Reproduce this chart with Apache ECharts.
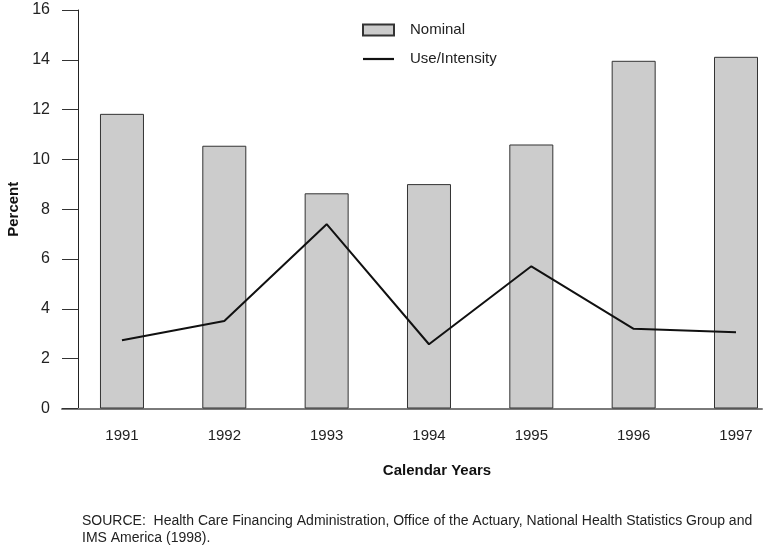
<!DOCTYPE html>
<html><head><meta charset="utf-8">
<script src="https://cdn.jsdelivr.net/npm/echarts@6/dist/echarts.min.js"></script>
<style>html,body{margin:0;padding:0;background:#fff}#c{width:768px;height:547px}</style>
</head><body><div id="c"></div>
<script>
const years = [1991, 1992, 1993, 1994, 1995, 1996, 1997];
const nominal = [11.83, 10.55, 8.64, 9.01, 10.6, 13.96, 14.12];
const useIntensity = [2.74, 3.51, 7.4, 2.58, 5.71, 3.2, 3.06];
const seriesNames = ['Nominal', 'Use/Intensity'];
const xTitle = 'Calendar Years';
const yTitle = 'Percent';
const sourceNote = 'SOURCE:  Health Care Financing Administration, Office of the Actuary, National Health Statistics Group and\nIMS America (1998).';

const FONT = '"Liberation Sans", Arial, sans-serif';
const chart = echarts.init(document.getElementById('c'), null, {renderer: 'canvas'});
chart.setOption({
  animation: false,
  backgroundColor: '#fff',
  textStyle: {fontFamily: FONT},
  grid: {left: 62, right: 6, top: 10, bottom: 138.5, containLabel: false, outerBoundsMode: 'none'},
  legend: {
    orient: 'vertical', left: 357, top: 17.5,
    itemWidth: 31, itemHeight: 11, itemGap: 14,
    textStyle: {fontFamily: FONT, fontSize: 15, color: '#222', padding: [0, 0, 0, 11]},
    data: [
      {name: seriesNames[0], icon: 'rect'},
      {name: seriesNames[1], icon: 'path://M0,0L31,0L31,2.2L0,2.2Z', itemStyle: {color: '#111', borderWidth: 0}}
    ]
  },
  xAxis: {
    type: 'value', min: 1990.414, max: 1997.254,
    axisLine: {show: true, lineStyle: {color: '#7a7a7a', width: 2}},
    axisTick: {show: false},
    splitLine: {show: false},
    axisLabel: {customValues: years, margin: 20, fontSize: 15, color: '#222', fontFamily: FONT,
      formatter: v => String(Math.round(v))}
  },
  yAxis: {
    type: 'value', min: 0, max: 16, interval: 2, offset: -16,
    name: yTitle, nameLocation: 'middle', nameGap: 57,
    nameTextStyle: {fontFamily: FONT, fontSize: 15, fontWeight: 'bold', color: '#111'},
    axisLine: {show: true, lineStyle: {color: '#222', width: 1}},
    axisTick: {show: true, length: 16, lineStyle: {color: '#333', width: 1}},
    splitLine: {show: false},
    axisLabel: {margin: 28, fontSize: 16, color: '#222', fontFamily: FONT}
  },
  graphic: [
    {
      type: 'text', x: 437, y: 471,
      style: {text: xTitle, fontSize: 15, fontWeight: 'bold', fill: '#111', fontFamily: FONT,
        align: 'center', verticalAlign: 'middle'}
    },
    {
      type: 'text', left: 82, top: 513,
      style: {text: sourceNote, fontSize: 14, lineHeight: 17, fill: '#222', fontFamily: FONT}
    }
  ],
  series: [
    {
      name: seriesNames[0], type: 'bar', barWidth: 44,
      itemStyle: {color: '#cccccc', borderColor: '#333', borderWidth: 1},
      data: years.map((y, i) => [y, nominal[i]])
    },
    {
      name: seriesNames[1], type: 'line', symbol: 'none',
      lineStyle: {color: '#111', width: 2},
      itemStyle: {color: '#111'},
      data: years.map((y, i) => [y, useIntensity[i]])
    }
  ]
});
</script></body></html>
